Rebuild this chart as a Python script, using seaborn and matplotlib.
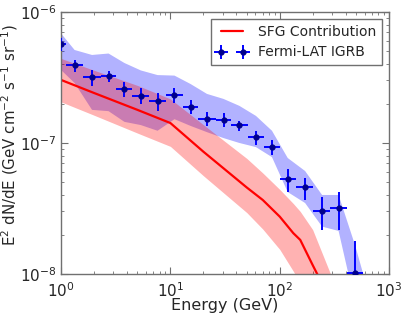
import numpy as np
import pandas as pd
import seaborn as sns
import matplotlib
matplotlib.use("Agg")
import matplotlib.pyplot as plt

# Fermi-LAT IGRB points (GeV, GeV cm^-2 s^-1 sr^-1)
igrb_e = [1.0, 1.33, 1.92, 2.72, 3.80, 5.37, 7.63, 10.9, 15.3, 21.6, 30.6, 42.8, 60.6, 84.9, 118.3, 170.6, 243.8, 345.3, 488.3]
igrb_elo = [0.8, 1.1, 1.6, 2.3, 3.2, 4.5, 6.4, 9.1, 13, 18, 26, 36, 51, 72, 100, 140, 200, 290, 410]
igrb_ehi = [1.1, 1.6, 2.3, 3.2, 4.5, 6.4, 9.1, 13, 18, 26, 36, 51, 72, 100, 140, 200, 290, 410, 580]
igrb_f = [5.70e-7, 3.94e-7, 3.17e-7, 3.25e-7, 2.57e-7, 2.29e-7, 2.10e-7, 2.32e-7, 1.89e-7, 1.52e-7,
          1.50e-7, 1.36e-7, 1.11e-7, 9.38e-8, 5.28e-8, 4.59e-8, 3.04e-8, 3.19e-8, 1.02e-8]
igrb_fhi = [6.30e-7, 4.30e-7, 3.61e-7, 3.56e-7, 2.92e-7, 2.62e-7, 2.39e-7, 2.62e-7, 2.13e-7, 1.71e-7,
            1.69e-7, 1.47e-7, 1.24e-7, 1.05e-7, 6.30e-8, 5.38e-8, 3.89e-8, 4.25e-8, 1.77e-8]
igrb_flo = [5.07e-7, 3.50e-7, 2.74e-7, 2.94e-7, 2.23e-7, 1.99e-7, 1.77e-7, 2.01e-7, 1.66e-7, 1.35e-7,
            1.33e-7, 1.24e-7, 9.66e-8, 8.09e-8, 4.25e-8, 3.67e-8, 2.17e-8, 2.17e-8, 3.0e-9]

# foreground-model systematic band of the IGRB
band_e = igrb_e + [690]
band_hi = [6.86e-7, 5.13e-7, 4.70e-7, 4.82e-7, 4.08e-7, 3.58e-7, 3.30e-7, 3.27e-7, 2.82e-7, 2.37e-7,
           2.17e-7, 1.92e-7, 1.61e-7, 1.24e-7, 7.68e-8, 6.11e-8, 4.01e-8, 4.01e-8, 1.66e-8, 6.0e-9]
band_lo = [3.61e-7, 2.87e-7, 1.79e-7, 1.75e-7, 1.45e-7, 1.37e-7, 1.24e-7, 1.52e-7, 1.35e-7, 1.21e-7,
           1.09e-7, 1.00e-7, 9.3e-8, 7.8e-8, 4.22e-8, 3.48e-8, 2.30e-8, 2.13e-8, 6.0e-9, 1.0e-9]

# star-forming galaxy contribution
sfg_e = [1, 2, 5, 10, 20, 50, 70, 100, 133, 154, 200, 300]
sfg_f = [3.03e-7, 2.41e-7, 1.79e-7, 1.42e-7, 8.59e-8, 4.57e-8, 3.67e-8, 2.74e-8, 2.05e-8, 1.82e-8, 1.17e-8, 6.0e-9]
sfg_hi = [4.42e-7, 3.59e-7, 2.75e-7, 2.17e-7, 1.38e-7, 7.62e-8, 5.9e-8, 4.42e-8, 3.45e-8, 3.0e-8, 2.18e-8, 9.4e-9]
sfg_lo = [2.06e-7, 1.63e-7, 1.19e-7, 9.42e-8, 5.63e-8, 2.94e-8, 2.2e-8, 1.54e-8, 1.05e-8, 8.5e-9, 5.0e-9, 2.5e-9]

sns.set_style("ticks")
plt.rcParams['font.family'] = ['DejaVu Sans']
plt.rcParams['axes.unicode_minus'] = False
plt.rcParams['mathtext.default'] = 'regular'

fig = plt.figure(figsize=(4.07, 3.16), dpi=100)
ax = fig.add_axes([0.150, 0.133, 0.806, 0.829])

ax.fill_between(band_e, band_lo, band_hi, color='blue', alpha=0.3, lw=0)
ax.fill_between(sfg_e, sfg_lo, sfg_hi, color='red', alpha=0.3, lw=0)

df = pd.DataFrame({'E': sfg_e, 'F': sfg_f})
sns.lineplot(data=df, x='E', y='F', color='red', lw=1.6, ax=ax, label='SFG Contribution')

e = np.array(igrb_e)
f = np.array(igrb_f)
xerr = [e - np.array(igrb_elo), np.array(igrb_ehi) - e]
yerr = [f - np.array(igrb_flo), np.array(igrb_fhi) - f]
ax.errorbar(e, f, xerr=xerr, yerr=yerr, fmt='o', ms=3.5, color='blue', mfc='darkblue', mec='darkblue',
            elinewidth=1.4, capsize=0, label='Fermi-LAT IGRB', zorder=5)

ax.set_xscale('log')
ax.set_yscale('log')
ax.set_xlim(1, 1000)
ax.set_ylim(1e-8, 1e-6)
ax.set_xlabel('Energy (GeV)', fontsize=11.5, labelpad=-1)
ax.set_ylabel('E$^2$ dN/dE (GeV cm$^{-2}$ s$^{-1}$ sr$^{-1}$)', fontsize=10.8)
ax.yaxis.set_label_coords(-0.125, 0.53)

for s in ax.spines.values():
    s.set_color('#707070')
    s.set_linewidth(1.0)
ax.tick_params(which='both', direction='in', top=True, right=True, color='#707070', labelsize=11)
ax.tick_params(which='major', length=5)
ax.tick_params(which='minor', length=2.5)
ax.tick_params(axis='x', pad=5)

leg = ax.legend(loc='upper right', numpoints=2, fontsize=10, fancybox=False, framealpha=1,
                edgecolor='#707070', borderaxespad=0.5, handlelength=2.2)
leg.get_frame().set_linewidth(1.0)

fig.savefig('out.png', dpi=100)
